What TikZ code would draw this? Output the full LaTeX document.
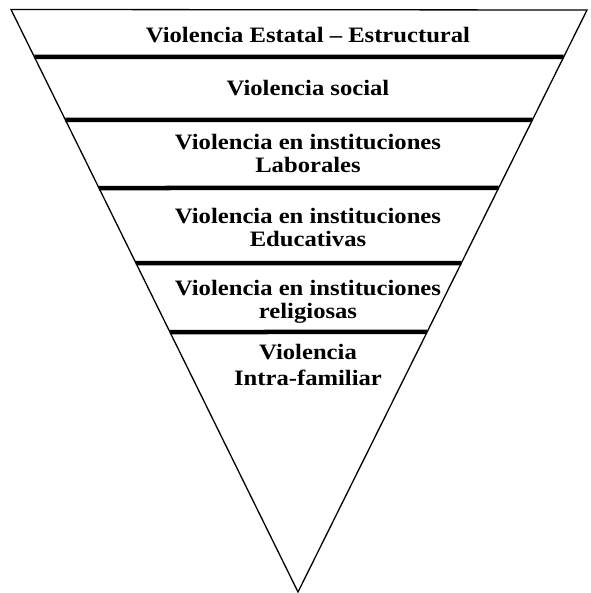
\documentclass[tikz,border=0pt]{standalone}
\usepackage{fontspec}
\setmainfont{Liberation Serif}[FakeStretch=1.12]
\usetikzlibrary{calc}
\begin{document}
\begin{tikzpicture}[x=1pt,y=-1pt,
  outline/.style={draw=black,line width=1.3pt,line join=miter},
  band/.style={draw=black,line width=4.5pt},
  label/.style={align=center,inner sep=0pt,anchor=base,font=\bfseries\fontsize{22}{23}\selectfont}]
  \useasboundingbox (0,0) rectangle (590,593);
  % corners of the inverted triangle
  \coordinate (TL) at (11,9.5);
  \coordinate (TR) at (587,10);
  \coordinate (B) at (298,592);
  \draw[outline] (TL) -- (TR) -- (B) -- cycle;
  % horizontal dividing bands
  \foreach \yy in {57,120,188,263,332}{
    \draw[band] ($(TL)!{(\yy-9.5)/582.5}!(B)$) -- ($(TR)!{(\yy-10)/582}!(B)$);
  }
  % level labels (placed by the baseline of their last line)
  \node[label] (n1) at (308,43) {Violencia Estatal – Estructural};
  \node[label] (n2) at (308,96) {Violencia social};
  \node[label] (n3) at (308,173) {Violencia en instituciones\\Laborales};
  \node[label] (n4) at (308,247) {Violencia en instituciones\\Educativas};
  \node[label] (n5) at (308,318) {Violencia en instituciones\\religiosas};
  \node[label,font=\bfseries\fontsize{22}{26}\selectfont] (n6) at (308,385) {Violencia\\Intra-familiar};
\end{tikzpicture}
\end{document}
